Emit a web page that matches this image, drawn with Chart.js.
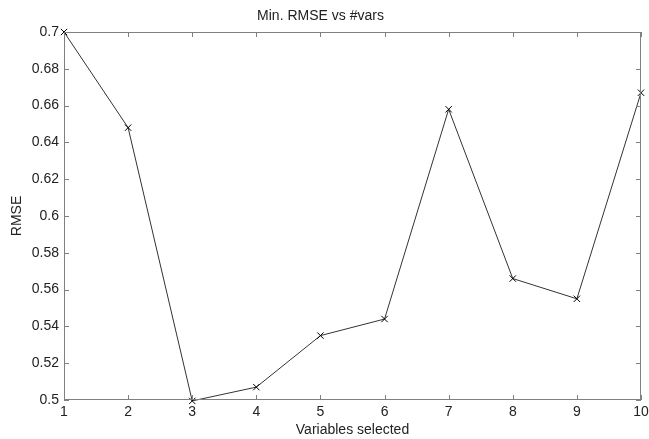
<!DOCTYPE html>
<html>
<head>
<meta charset="utf-8">
<script src="https://cdn.jsdelivr.net/npm/chart.js@4/dist/chart.umd.min.js"></script>
<style>
  html, body { margin: 0; padding: 0; background: #fff; }
  #wrap { width: 649px; height: 439px; }
</style>
</head>
<body>
<div id="wrap"><canvas id="rmseChart"></canvas></div>
<script>
// values
const varsSelected = [1, 2, 3, 4, 5, 6, 7, 8, 9, 10];
const minRmse = [0.700, 0.648, 0.4995, 0.507, 0.535, 0.544, 0.658, 0.566, 0.555, 0.667];
const yTicks = [0.5, 0.52, 0.54, 0.56, 0.58, 0.6, 0.62, 0.64, 0.66, 0.68, 0.7];

const axisColor = '#808080';
const font = { family: 'Liberation Sans, Arial, sans-serif', size: 14, weight: 'normal' };

// matlab-like box with inward ticks on all four sides
const boxPlugin = {
  id: 'box',
  afterDraw(chart) {
    const { ctx, chartArea: a, scales } = chart;
    ctx.save();
    ctx.strokeStyle = axisColor;
    ctx.lineWidth = 1;
    ctx.strokeRect(a.left + 0.5, a.top + 0.5, a.right - a.left - 1, a.bottom - a.top - 1);
    const len = 5;
    ctx.beginPath();
    varsSelected.forEach(v => {
      const x = Math.round(scales.x.getPixelForValue(v)) + 0.5;
      ctx.moveTo(x, a.bottom); ctx.lineTo(x, a.bottom - len);
      ctx.moveTo(x, a.top); ctx.lineTo(x, a.top + len);
    });
    yTicks.forEach(v => {
      const y = Math.round(scales.y.getPixelForValue(v)) + 0.5;
      ctx.moveTo(a.left, y); ctx.lineTo(a.left + len, y);
      ctx.moveTo(a.right, y); ctx.lineTo(a.right - len, y);
    });
    ctx.stroke();
    ctx.restore();
  }
};

const ctx = document.getElementById('rmseChart');
new Chart(ctx, {
  type: 'line',
  data: {
    datasets: [{
      data: varsSelected.map((v, i) => ({ x: v, y: minRmse[i] })),
      borderColor: '#333',
      borderWidth: 1,
      pointStyle: 'cross',
      rotation: 45,
      pointRadius: 4.5,
      pointBorderColor: '#000',
      pointBorderWidth: 1,
      tension: 0,
      clip: false
    }]
  },
  options: {
    responsive: true,
    maintainAspectRatio: false,
    animation: false,
    layout: { padding: { top: 0, right: 8, left: 0, bottom: 0 } },
    plugins: {
      legend: { display: false },
      tooltip: { enabled: false },
      title: {
        display: true,
        text: 'Min. RMSE vs #vars',
        color: '#222',
        font: font,
        padding: { top: 7.6, bottom: 7.6 }
      }
    },
    scales: {
      x: {
        type: 'linear',
        min: 1,
        max: 10,
        afterBuildTicks: s => { s.ticks = varsSelected.map(v => ({ value: v })); },
        afterFit: s => { s.height = 39; s.paddingLeft = 0; s.paddingRight = 0; },
        grid: { drawOnChartArea: false, drawTicks: false },
        border: { display: false },
        ticks: { color: '#222', font: font, padding: 4, maxRotation: 0 },
        title: { display: true, text: 'Variables selected', color: '#222', font: font, padding: 0 }
      },
      y: {
        min: 0.5,
        max: 0.7,
        afterBuildTicks: s => { s.ticks = yTicks.map(v => ({ value: v })); },
        afterFit: s => { s.width = 64; s.paddingTop = 0; s.paddingBottom = 0; },
        grid: { drawOnChartArea: false, drawTicks: false },
        border: { display: false },
        ticks: { color: '#222', font: font, padding: 5, callback: v => String(+v.toFixed(2)) },
        title: { display: true, text: 'RMSE', color: '#222', font: font, padding: { top: 9, bottom: 0 } }
      }
    }
  },
  plugins: [boxPlugin]
});
</script>
</body>
</html>
